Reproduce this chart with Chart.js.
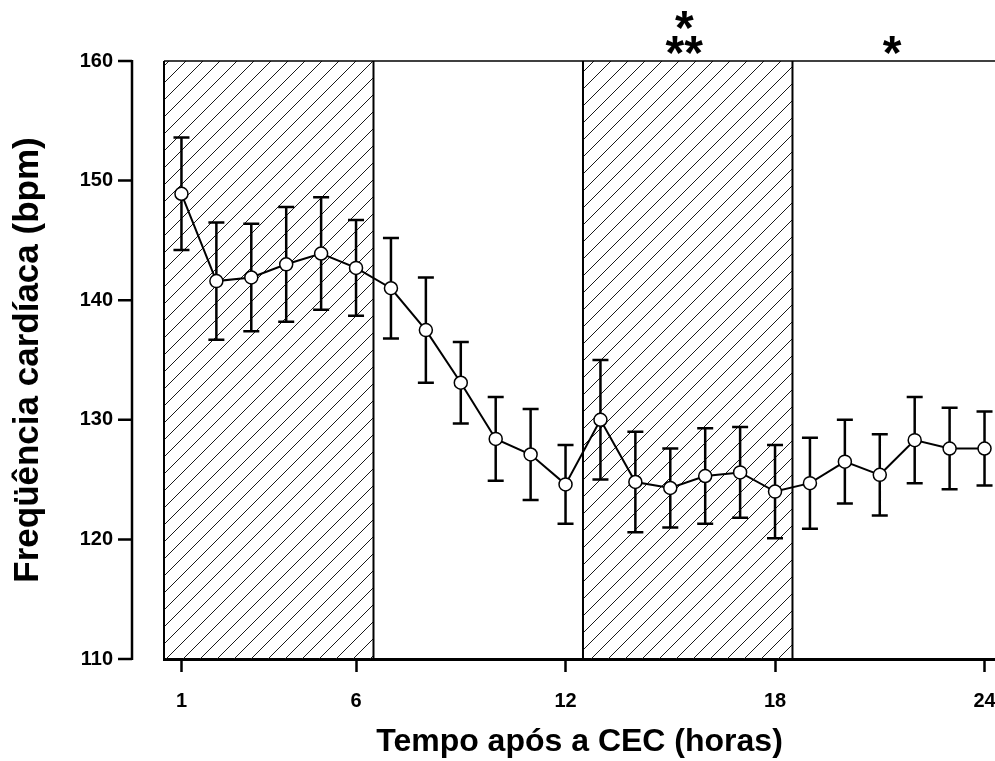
<!DOCTYPE html>
<html>
<head>
<meta charset="utf-8">
<title>Frequência cardíaca após CEC</title>
<script src="https://cdn.jsdelivr.net/npm/chart.js@4.4.1/dist/chart.umd.min.js"></script>
<style>
  html, body { margin: 0; padding: 0; background: #fff; }
  #wrap { width: 995px; height: 761px; }
</style>
</head>
<body>
<div id="wrap"><canvas id="hrChart" width="995" height="761"></canvas></div>
<script>
// Values
const hours = [1, 2, 3, 4, 5, 6, 7, 8, 9, 10, 11, 12, 13, 14, 15, 16, 17, 18, 19, 20, 21, 22, 23, 24];
const meanHR = [148.9, 141.6, 141.9, 143.0, 143.9, 142.7, 141.0, 137.5, 133.1, 128.4, 127.1, 124.6,
                130.0, 124.8, 124.3, 125.3, 125.6, 124.0, 124.7, 126.5, 125.4, 128.3, 127.6, 127.6];
const semHR = [4.7, 4.9, 4.5, 4.8, 4.7, 4.0, 4.2, 4.4, 3.4, 3.5, 3.8, 3.3,
               5.0, 4.2, 3.3, 4.0, 3.8, 3.9, 3.8, 3.5, 3.4, 3.6, 3.4, 3.1];
const xTicks = [1, 6, 12, 18, 24];
const yTicks = [110, 120, 130, 140, 150, 160];
// hatched periods (hours)
const shadedPeriods = [[0.5, 6.5], [12.5, 18.5]];
// significance marks: hour, text, row above the frame (2 = upper)
const sigHours = [15.4, 15.4, 21.35];
const sigTexts = ['*', '**', '*'];
const sigRows = [2, 1, 1];

const FONT = "'Liberation Sans', Arial, Helvetica, sans-serif";

const figurePlugin = {
    id: 'figureExtras',
    beforeDatasetsDraw(chart) {
        const { ctx, chartArea: area, scales: { x, y } } = chart;
        const h = area.bottom - area.top;

        // Hatched periods
        shadedPeriods.forEach(([from, to]) => {
            const x0 = x.getPixelForValue(from);
            const x1 = x.getPixelForValue(to);
            ctx.save();
            ctx.beginPath();
            ctx.rect(x0, area.top, x1 - x0, h);
            ctx.clip();
            ctx.strokeStyle = '#1a1a1a';
            ctx.lineWidth = 1;
            ctx.beginPath();
            const step = 17;
            const start = area.left + 2 - Math.ceil((h + area.left) / step) * step;
            for (let xb = start; xb < x1 + step; xb += step) {
                ctx.moveTo(xb, area.bottom);
                ctx.lineTo(xb + h, area.top);
            }
            ctx.stroke();
            ctx.restore();

            ctx.save();
            ctx.strokeStyle = '#000';
            ctx.lineWidth = 2;
            ctx.beginPath();
            ctx.moveTo(x0, area.top);
            ctx.lineTo(x0, area.bottom);
            ctx.moveTo(x1, area.top);
            ctx.lineTo(x1, area.bottom);
            ctx.stroke();
            ctx.restore();
        });

        ctx.save();
        // Top frame line
        ctx.strokeStyle = '#000';
        ctx.lineWidth = 1.5;
        ctx.beginPath();
        ctx.moveTo(area.left, area.top);
        ctx.lineTo(area.right, area.top);
        ctx.stroke();

        // Detached y axis with ticks pointing left
        const axisX = area.left - 32;
        ctx.lineWidth = 2.5;
        ctx.beginPath();
        ctx.moveTo(axisX, y.getPixelForValue(yTicks[yTicks.length - 1]) - 1);
        ctx.lineTo(axisX, y.getPixelForValue(yTicks[0]) + 1);
        yTicks.forEach(v => {
            const py = y.getPixelForValue(v);
            ctx.moveTo(axisX - 14, py);
            ctx.lineTo(axisX, py);
        });
        ctx.stroke();

        // Error bars (mean +/- sem)
        ctx.lineWidth = 2.5;
        ctx.beginPath();
        hours.forEach((hr, i) => {
            const px = x.getPixelForValue(hr);
            const yHi = y.getPixelForValue(meanHR[i] + semHR[i]);
            const yLo = y.getPixelForValue(meanHR[i] - semHR[i]);
            ctx.moveTo(px, yHi);
            ctx.lineTo(px, yLo);
            ctx.moveTo(px - 8, yHi);
            ctx.lineTo(px + 8, yHi);
            ctx.moveTo(px - 8, yLo);
            ctx.lineTo(px + 8, yLo);
        });
        ctx.stroke();
        ctx.restore();
    },
    afterDraw(chart) {
        const { ctx, chartArea: area, scales: { x } } = chart;
        ctx.save();
        ctx.fillStyle = '#000';
        ctx.font = 'bold 48px ' + FONT;
        ctx.textAlign = 'center';
        ctx.textBaseline = 'alphabetic';
        sigTexts.forEach((txt, i) => {
            const m = ctx.measureText(txt);
            const inkMid = (m.actualBoundingBoxAscent - m.actualBoundingBoxDescent) / 2;
            const cy = area.top - (sigRows[i] === 2 ? 41 : 16);
            ctx.fillText(txt, x.getPixelForValue(sigHours[i]), cy + inkMid);
        });
        ctx.restore();
    }
};

const ctx = document.getElementById('hrChart').getContext('2d');
const hrChart = new Chart(ctx, {
    type: 'line',
    data: {
        datasets: [{
            label: 'Freqüência cardíaca',
            data: hours.map((hr, i) => ({ x: hr, y: meanHR[i] })),
            borderColor: '#000',
            borderWidth: 2,
            tension: 0,
            fill: false,
            pointRadius: 6.5,
            pointBackgroundColor: '#fff',
            pointBorderColor: '#000',
            pointBorderWidth: 1.5,
            clip: false
        }]
    },
    options: {
        responsive: false,
        animation: false,
        // no auto padding: the original figure is cropped just past hour 24
        layout: { autoPadding: false, padding: { top: 61, right: 0, bottom: 0, left: 0 } },
        plugins: {
            legend: { display: false },
            tooltip: { enabled: false }
        },
        scales: {
            x: {
                type: 'linear',
                min: 0.5,
                max: 24.3,
                afterBuildTicks: axis => { axis.ticks = xTicks.map(v => ({ value: v })); },
                afterFit: scale => {
                    scale.height = 102;
                    scale.paddingLeft = 0;
                    scale.paddingRight = 0;
                },
                grid: {
                    display: true,
                    drawOnChartArea: false,
                    drawTicks: true,
                    tickLength: 13,
                    tickWidth: 2.5,
                    tickColor: '#000'
                },
                border: { display: true, width: 3, color: '#000' },
                ticks: {
                    color: '#000',
                    font: { family: FONT, size: 20, weight: 'bold' },
                    padding: 17,
                    maxRotation: 0,
                    autoSkip: false
                },
                title: {
                    display: true,
                    text: 'Tempo após a CEC (horas)',
                    color: '#000',
                    font: { family: FONT, size: 32, weight: 'bold' },
                    padding: { top: 0, bottom: 0 }
                }
            },
            y: {
                min: 110,
                max: 160,
                afterFit: scale => {
                    scale.width = 164;
                    scale.paddingTop = 0;
                    scale.paddingBottom = 0;
                },
                grid: { display: false, drawTicks: false },
                border: { display: false },
                ticks: {
                    stepSize: 10,
                    color: '#000',
                    font: { family: FONT, size: 20, weight: 'bold' },
                    padding: 51
                },
                title: {
                    display: true,
                    text: 'Freqüência cardíaca (bpm)',
                    color: '#000',
                    font: { family: FONT, size: 35, weight: 'bold' },
                    padding: { top: 7, bottom: 0 }
                }
            }
        }
    },
    plugins: [figurePlugin]
});
</script>
</body>
</html>
